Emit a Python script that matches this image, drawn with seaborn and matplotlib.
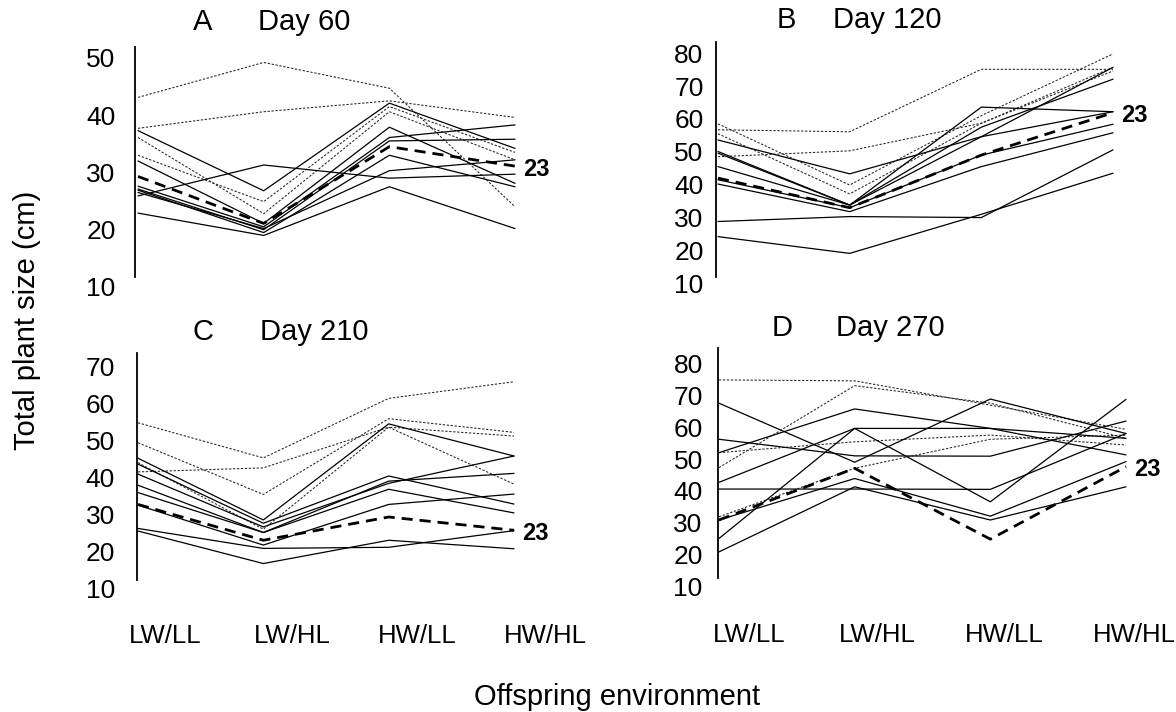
import numpy as np
import pandas as pd
import matplotlib
matplotlib.use("Agg")
import matplotlib.pyplot as plt
import seaborn as sns

# =====================================================================================================================
# Data (total plant size, cm) for each offspring environment
# =====================================================================================================================
environments = ["LW/LL", "LW/HL", "HW/LL", "HW/HL"]

# Day 60
day60_dotted = [[43.1, 49.2, 44.7, 24.0],
                [37.7, 40.6, 42.5, 39.6],
                [36.1, 22.8, 40.6, 32.2],
                [33.0, 24.9, 41.5, 33.5]]
day60_solid = [[37.3, 26.8, 42.1, 34.2],
               [32.0, 21.1, 37.9, 28.1],
               [27.6, 20.5, 36.1, 38.3],
               [27.1, 20.0, 35.5, 35.8],
               [26.9, 19.5, 33.0, 27.5],
               [25.9, 31.3, 29.0, 29.7],
               [26.5, 20.2, 30.3, 32.2],
               [22.9, 19.0, 27.5, 20.2]]
day60_line23 = [29.3, 21.1, 34.5, 31.1]

# Day 120
day120_dotted = [[58.5, 39.9, 61.0, 79.8],
                 [56.7, 56.1, 75.1, 75.1],
                 [55.5, 37.2, 58.7, 74.6],
                 [48.5, 50.3, 58.7, 75.7]]
day120_solid = [[53.6, 43.3, 54.6, 62.2],
                [50.1, 33.8, 63.6, 62.2],
                [49.6, 33.8, 57.5, 72.1],
                [45.5, 33.8, 54.6, 75.7],
                [41.5, 33.0, 49.0, 58.4],
                [40.2, 31.8, 45.5, 55.8],
                [28.8, 30.3, 30.0, 50.6],
                [24.2, 19.1, 31.0, 43.5]]
day120_line23 = [42.0, 33.0, 49.0, 61.9]

# Day 210
day210_dotted = [[54.8, 45.3, 61.4, 65.9],
                 [49.4, 35.4, 55.9, 52.2],
                 [41.5, 42.6, 53.6, 38.2],
                 [44.0, 26.0, 53.6, 51.2]]
day210_solid = [[45.2, 28.5, 54.5, 45.8],
                [43.6, 27.6, 40.4, 32.8],
                [40.9, 26.6, 38.4, 45.8],
                [37.9, 25.1, 36.8, 30.4],
                [35.9, 25.1, 39.0, 41.1],
                [32.5, 21.7, 32.7, 35.5],
                [26.2, 20.8, 21.1, 25.6],
                [25.5, 16.7, 23.0, 20.7]]
day210_line23 = [32.7, 23.0, 29.3, 25.7]

# Day 270
day270_dotted = [[74.8, 74.5, 66.9, 59.3],
                 [47.3, 73.0, 67.5, 56.5],
                 [52.0, 55.4, 57.5, 54.4],
                 [31.9, 47.1, 56.2, 57.5]]
day270_solid = [[67.5, 49.0, 68.8, 58.0],
                [52.0, 65.7, 59.6, 56.5],
                [56.2, 51.0, 50.9, 61.9],
                [42.7, 59.6, 59.6, 51.3],
                [25.1, 59.6, 36.6, 68.7],
                [40.6, 40.6, 40.5, 58.0],
                [30.9, 43.9, 32.1, 49.2],
                [20.9, 41.3, 30.9, 41.3]]
day270_line23 = [30.9, 47.1, 24.9, 47.6]

panel_letters = ["A", "B", "C", "D"]
panel_titles = ["Day 60", "Day 120", "Day 210", "Day 270"]

# =====================================================================================================================
# Layout (pixels of the 1176x712 figure) and styling
# =====================================================================================================================
W, H = 1176, 712
sns.set_style("white")
plt.rcParams["font.family"] = ["Liberation Sans", "DejaVu Sans"]
plt.rcParams["text.color"] = "black"
plt.rcParams["xtick.color"] = "black"
plt.rcParams["ytick.color"] = "black"
plt.rcParams["axes.labelcolor"] = "black"

fig = plt.figure(figsize=(W / 100, H / 100), dpi=100)

# left, right, top, bottom in pixels; ylim; spine bounds; xlim; tick pad
panels = [
    dict(box=(135, 571.6, 47, 287), ylim=(10, 51.9), spine=(11.7, 51.9), xlim=(-0.024, 3.45),
         yticks=range(10, 51, 10), ypad=14, title_off=(58, 123, 25)),
    dict(box=(716, 1172.3, 41.7, 283.3), ylim=(10, 83.5), spine=(12.0, 83.5), xlim=(-0.015, 3.45),
         yticks=range(10, 81, 10), ypad=9, title_off=(61, 117, 22)),
    dict(box=(137, 570.4, 353.3, 588.3), ylim=(10, 73.6), spine=(12.2, 73.6), xlim=(-0.008, 3.45),
         yticks=range(10, 71, 10), ypad=16, title_off=(56, 123, 21),
         xtick_pos=[0.22, 1.23, 2.23, 3.25]),
    dict(box=(718, 1173.5, 348.3, 586.7), ylim=(10, 84.7), spine=(12.6, 84.7), xlim=(-0.007, 3.35),
         yticks=range(10, 81, 10), ypad=11, title_off=(54, 118, 20),
         xtick_pos=[0.22, 1.17, 2.10, 3.06]),
]
panel_data = [(day60_dotted, day60_solid, day60_line23),
              (day120_dotted, day120_solid, day120_line23),
              (day210_dotted, day210_solid, day210_line23),
              (day270_dotted, day270_solid, day270_line23)]

x = np.arange(len(environments))

for i, (cfg, (dotted, solid, line23)) in enumerate(zip(panels, panel_data)):
    l, r, t, b = cfg["box"]
    ax = fig.add_axes([l / W, 1 - b / H, (r - l) / W, (b - t) / H])

    for vals in dotted:
        sns.lineplot(x=x, y=vals, ax=ax, color="#222222", linewidth=0.75,
                     linestyle=(0, (2.2, 1.6)), legend=False)
    for vals in solid:
        sns.lineplot(x=x, y=vals, ax=ax, color="black", linewidth=0.9, legend=False)
    sns.lineplot(x=x, y=line23, ax=ax, color="black", linewidth=2.0,
                 linestyle=(0, (4, 2.5)), legend=False)

    ax.annotate("23", xy=(x[-1], line23[-1]), xytext=(8, -3), textcoords="offset pixels",
                fontsize=17, fontweight="bold", va="center", ha="left", annotation_clip=False)

    ax.set_xlim(*cfg["xlim"])
    ax.set_ylim(*cfg["ylim"])
    ax.set_yticks(list(cfg["yticks"]))
    ax.tick_params(axis="y", length=0, labelsize=19, pad=cfg["ypad"])
    if "xtick_pos" in cfg:
        ax.set_xticks(cfg["xtick_pos"])
        ax.set_xticklabels(environments)
        ax.tick_params(axis="x", length=0, labelsize=18.5, pad=26)
    else:
        ax.set_xticks([])
    ax.set_xlabel("")
    ax.set_ylabel("")

    for side in ["top", "right", "bottom"]:
        ax.spines[side].set_visible(False)
    ax.spines["left"].set_bounds(*cfg["spine"])
    ax.spines["left"].set_linewidth(1.3)
    ax.spines["left"].set_color("black")

    lx, dx, dy = cfg["title_off"]
    ax.annotate(panel_letters[i], xy=(0, 1), xycoords="axes fraction", xytext=(lx, dy),
                textcoords="offset pixels", fontsize=21, va="center", ha="left")
    ax.annotate(panel_titles[i], xy=(0, 1), xycoords="axes fraction", xytext=(dx, dy),
                textcoords="offset pixels", fontsize=21, va="center", ha="left")

fig.text(27 / W, 1 - 320 / H, "Total plant size (cm)", rotation=90, fontsize=21,
         ha="center", va="center")
fig.text(617 / W, 1 - 697 / H, "Offspring environment", fontsize=21, ha="center", va="center")

fig.savefig("out.png", dpi=100)
